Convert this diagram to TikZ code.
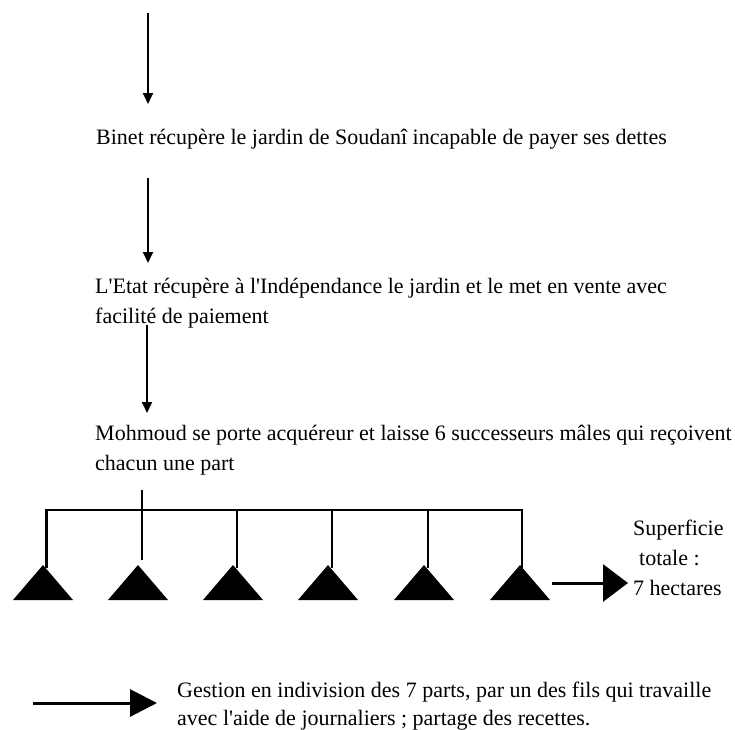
\documentclass[tikz,border=0pt]{standalone}
\usepackage{fontspec}
\setmainfont{Liberation Serif}
\usetikzlibrary{arrows.meta}
\begin{document}
\begin{tikzpicture}[x=1pt,y=-1pt,
  txt/.style={anchor=base west, inner sep=0pt, font=\fontsize{22}{30}\selectfont},
  varrow/.style={line width=1.8pt, -{Triangle[length=11pt,width=10pt]}},
  bigarrow/.style={line width=3pt, -{Triangle[length=25pt,width=37pt]}},
  botarrow/.style={line width=3pt, -{Triangle[length=27pt,width=27pt]}},
  busline/.style={line width=2.5pt, line join=miter},
  stubline/.style={line width=2.2pt},
  tri/.style={fill=black}
]
\useasboundingbox (0,0) rectangle (735,729);

% text blocks
\node[txt] (t1) at (96,144) {Binet récupère le jardin de Soudanî incapable de payer ses dettes};
\node[txt] (t2) at (95,293) {\parbox[t]{660pt}{\raggedright L\textquotesingle Etat récupère à l\textquotesingle Indépendance le jardin et le met en vente avec\\facilité de paiement}};
\node[txt] (t3) at (95,440) {\parbox[t]{660pt}{\raggedright Mohmoud se porte acquéreur et laisse 6 successeurs mâles qui reçoivent\\chacun une part}};
\node[txt] (sup) at (633,535) {\parbox[t]{110pt}{\raggedright Superficie\\\hspace*{6pt}totale :\\7 hectares}};
\node[txt, font=\fontsize{22}{28}\selectfont] (gest) at (177,697) {\parbox[t]{560pt}{\raggedright Gestion en indivision des 7 parts, par un des fils qui travaille\\avec l\textquotesingle aide de journaliers ; partage des recettes.}};

% vertical arrows
\coordinate (a1s) at (148,13);
\coordinate (a1e) at (148,104);
\coordinate (a2s) at (148,178);
\coordinate (a2e) at (148,263);
\coordinate (a3s) at (147,325);
\coordinate (a3e) at (147,413);
\draw[varrow] (a1s) -- (a1e);
\draw[varrow] (a2s) -- (a2e);
\draw[varrow] (a3s) -- (a3e);

% triangles (parts)
\foreach \i/\x in {1/43,2/138,3/233,4/328,5/424,6/520} {
  \coordinate (apex\i) at (\x,565);
  \fill[tri] (apex\i) -- ++(30,35) -- ++(-60,0) -- cycle;
}

% bus and drops
\coordinate (busR) at (522,510);
\draw[busline] ([xshift=3.5pt,yshift=-3pt]apex1) |- (busR) -- ([xshift=2pt,yshift=-3pt]apex6);
\foreach \i in {3,4,5} {
  \draw[busline] ([xshift=4pt]apex\i |- busR) -- ([xshift=4pt,yshift=-3pt]apex\i);
}
\coordinate (stubtop) at (142,490);
\draw[stubline] (stubtop) -- ([xshift=4pt,yshift=5pt]apex2);

% horizontal arrows
\coordinate (r1) at (552,583);
\coordinate (r2) at (628,583);
\draw[bigarrow] (r1) -- (r2);
\coordinate (b1) at (33,703);
\coordinate (b2) at (157,703);
\draw[botarrow] (b1) -- (b2);
\end{tikzpicture}
\end{document}
